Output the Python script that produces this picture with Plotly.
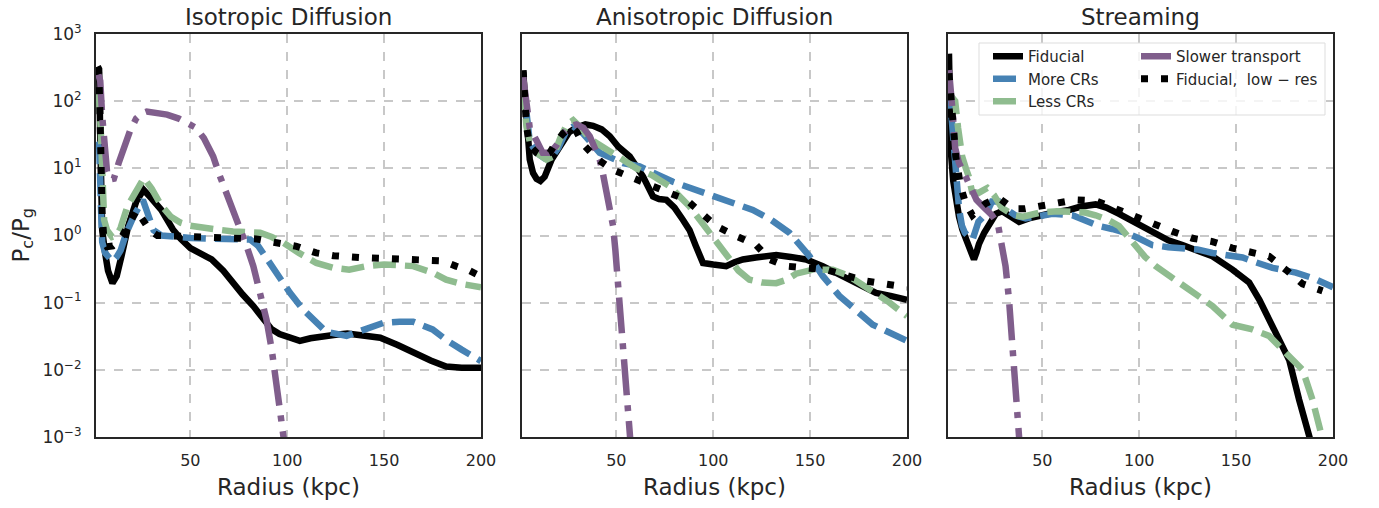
import plotly.graph_objects as go

# ---------------- data (radius in kpc, Pc/Pg) ----------------
panel_titles = ["Isotropic Diffusion", "Anisotropic Diffusion", "Streaming"]
series_names = ["Fiducial", "More CRs", "Less CRs", "Slower transport", "Fiducial,\u00a0 low \u2212 res"]
x_tick_vals = [50, 100, 150, 200]
y_tick_vals = [1e-3, 1e-2, 1e-1, 1e0, 1e1, 1e2, 1e3]
y_tick_text = ["10<sup>\u22123</sup>", "10<sup>\u22122</sup>", "10<sup>\u22121</sup>", "10<sup>0</sup>",
               "10<sup>1</sup>", "10<sup>2</sup>", "10<sup>3</sup>"]

# Isotropic diffusion
iso_fid_r = [2.2, 2.9, 3.6, 4.5, 6.0, 7.5, 9.8, 12, 14.5, 18, 22, 25.8, 30, 35, 41, 45, 50, 55, 61, 67,
             72, 77, 82.5, 88, 92, 96, 101, 106.5, 112, 117, 124, 131, 140, 148, 157, 165, 174, 182, 190, 200]
iso_fid_v = [330, 300, 20, 1.2, 0.55, 0.3, 0.195, 0.25, 0.5, 1.41, 3.16, 4.8, 3.55, 2.4, 1.23, 0.89, 0.65, 0.54, 0.44, 0.30,
             0.195, 0.132, 0.089, 0.056, 0.040, 0.034, 0.030, 0.027, 0.0295, 0.0316, 0.033, 0.0347, 0.033, 0.030, 0.0234,
             0.0178, 0.0138, 0.0112, 0.0107, 0.0107]
iso_more_r = [1.8, 3.0, 3.8, 4.5, 6, 8, 9.8, 12, 14, 17, 21, 25.5, 28, 31, 35, 41, 50, 60, 70, 80.8,
              85, 89.3, 95, 101.4, 108, 113.4, 120, 130.6, 140.9, 149.5, 158, 165, 175, 182, 190, 200]
iso_more_v = [25, 20, 3, 0.8, 0.55, 0.45, 0.41, 0.48, 0.6, 1.1, 2.0, 3.4, 2.0, 1.2, 1.0, 0.95, 0.92, 0.9, 0.9, 0.87,
              0.7, 0.45, 0.25, 0.14, 0.08, 0.056, 0.037, 0.032, 0.04, 0.05, 0.052, 0.052, 0.04, 0.028, 0.02, 0.0135]
iso_less_r = [1.8, 3.0, 3.8, 4.5, 5.5, 7, 9.6, 12, 14, 17.5, 22.6, 26, 30, 35, 40, 45, 50, 56, 63.6, 72,
              80, 86, 92, 98, 106, 115, 124, 132, 141, 150, 158, 165, 175, 182, 190, 200]
iso_less_v = [150, 100, 35, 8, 1.7, 1.2, 0.95, 1.0, 1.3, 2.7, 5.2, 7.2, 5.0, 2.8, 1.9, 1.55, 1.4, 1.3, 1.23, 1.15,
              1.12, 1.1, 0.95, 0.78, 0.55, 0.39, 0.33, 0.31, 0.35, 0.37, 0.36, 0.35, 0.28, 0.22, 0.19, 0.17]
iso_slow_r = [2.5, 3.5, 4.5, 5.5, 7, 8.6, 10.5, 13, 16, 19, 22, 25, 27.5, 32, 38, 44, 48, 53, 57, 61.8,
              65, 68.7, 72, 75.6, 79, 82.5, 86, 89.3, 92, 94.5, 96.5, 98, 99.5]
iso_slow_v = [250, 200, 60, 20, 9, 6.8, 7, 12, 22, 37, 55, 66, 70, 68, 63, 55, 47, 40, 28, 15,
              8, 4.3, 2.4, 1.38, 0.7, 0.35, 0.15, 0.056, 0.02, 0.0065, 0.0022, 0.0011, 0.0005]
iso_low_r = [2.0, 2.8, 3.3, 3.8, 4.5, 5.5, 7, 10, 12, 15, 18, 20.5, 22.4, 25, 29, 33, 45, 55, 65, 75,
             84, 94.5, 104.8, 115, 124, 137.5, 150, 158, 168, 180, 187, 194, 200]
iso_low_v = [320, 250, 80, 12, 2.0, 0.8, 0.68, 0.7, 0.78, 1.0, 1.5, 2.0, 2.4, 1.8, 1.2, 1.0, 0.97, 0.95, 0.93, 0.92,
             0.89, 0.78, 0.69, 0.55, 0.5, 0.47, 0.45, 0.44, 0.44, 0.42, 0.35, 0.3, 0.245]

# Anisotropic diffusion
ani_fid_r = [1.9, 3.0, 4.2, 5.3, 7, 8.8, 10.8, 13, 16.6, 21, 25.4, 29, 34, 38, 42.4, 46.6, 51, 56.9, 60.3, 63.7,
             68.9, 72, 75.8, 80, 84.4, 87.8, 91, 94.7, 100, 106.7, 111, 115.3, 122, 132.5, 140, 147.9, 156.5, 165,
             173.7, 184, 192, 200]
ani_fid_v = [275, 120, 30, 13.5, 8.5, 7, 6.5, 7.5, 13.5, 22, 34, 40, 45, 43, 38, 30, 21, 15, 11, 7.6,
             3.8, 3.5, 3.4, 2.6, 1.7, 1.2, 0.7, 0.39, 0.37, 0.35, 0.4, 0.44, 0.47, 0.51, 0.48, 0.44, 0.35, 0.26,
             0.19, 0.14, 0.125, 0.11]
ani_more_r = [1.9, 3.6, 5.3, 8.8, 13, 15.6, 20, 24, 27.7, 32.8, 41.4, 53.4, 62, 79.2, 101.5, 120.4, 130, 139.3,
              149.7, 156.5, 165.1, 182.3, 200]
ani_more_v = [190, 60, 25, 17, 14, 13.5, 20, 35, 42, 33, 17, 12, 10.7, 6.3, 3.8, 2.4, 1.7, 1.1,
              0.49, 0.25, 0.126, 0.047, 0.027]
ani_less_r = [1.9, 3.6, 5.3, 8.8, 13.9, 17.4, 21, 24.5, 27.7, 31, 36, 44.8, 52, 60.3, 68, 77.5, 87.8, 93, 98.1, 103,
              108.4, 113, 118.7, 125, 132.5, 138, 142.8, 151.4, 161.7, 170, 178.9, 190, 200]
ani_less_v = [165, 42, 25, 17, 13.5, 15, 28, 45, 52, 42, 28, 19, 14, 10, 8, 5.4, 2.7, 1.7, 1.1, 0.7,
              0.44, 0.3, 0.22, 0.2, 0.195, 0.22, 0.27, 0.31, 0.31, 0.25, 0.17, 0.105, 0.063]
ani_slow_r = [1.9, 3.6, 5.3, 8.8, 12, 15.6, 19.1, 22.5, 26, 29.4, 33, 36.3, 39, 41.4, 43, 44.8, 46.6, 48.3,
              49.5, 50.9, 52, 53.4, 55, 57.5]
ani_slow_v = [230, 90, 40, 26, 17, 17, 22, 33, 42, 45, 40, 30, 20, 13.5, 8.5, 4.8, 2.6, 1.38,
              0.6, 0.195, 0.07, 0.02, 0.005, 0.0007]
ani_low_r = [1.9, 3.6, 5.3, 8.8, 12, 15.6, 19.1, 22.5, 26.8, 29.5, 32.8, 39.7, 48.3, 58.6, 68.9, 86.1, 101.5,
             111.9, 122.2, 129, 137.6, 158.2, 168.6, 178.9, 200]
ani_low_v = [290, 42, 22, 17, 15, 17, 25, 33, 42, 35, 23, 14, 9.5, 7, 5.4, 3.4, 1.38,
             0.98, 0.72, 0.44, 0.35, 0.31, 0.26, 0.21, 0.17]

# Streaming
str_fid_r = [1.8, 2.7, 4, 5.3, 7, 8.7, 10.4, 12.1, 13.5, 14.7, 16, 17.3, 20, 22.5, 26, 29.3, 33, 38, 43, 48.3,
             56, 63.8, 70, 77.5, 83, 89.6, 100, 108.5, 115, 122.3, 130, 137.8, 148.1, 156.7, 162, 167, 172,
             177.4, 182.5, 187.7, 190]
str_fid_v = [510, 19, 6.5, 3.4, 1.9, 1.23, 0.95, 0.69, 0.52, 0.44, 0.56, 0.75, 1.1, 1.5, 2.1, 2.3, 2.0, 1.6, 1.8, 2.0,
             2.2, 2.4, 2.7, 2.9, 2.6, 2.1, 1.45, 1.02, 0.85, 0.72, 0.6, 0.49, 0.31, 0.2, 0.11, 0.056, 0.03,
             0.014, 0.0036, 0.001, 0.0006]
str_more_r = [1.8, 2.7, 4, 5.5, 7, 8.5, 10, 12, 14, 17, 21, 24, 27.6, 31, 36, 41.4, 48.3, 55.2, 65.5, 72,
              79.3, 86, 93, 100, 106.8, 115, 124, 130, 137.8, 146, 153.3, 160, 168.8, 180.8, 190, 200]
str_more_v = [170, 75, 25, 6, 2.5, 1.4, 1.1, 0.95, 0.87, 1.6, 2.1, 3.2, 3.2, 2.5, 2.0, 1.8, 2.0, 2.1, 2.0, 1.7,
              1.38, 1.25, 1.1, 0.9, 0.72, 0.67, 0.65, 0.62, 0.55, 0.5, 0.47, 0.4, 0.33, 0.28, 0.23, 0.17]
str_less_r = [1.8, 3.5, 5, 6.5, 8.6, 10.5, 12, 13.7, 17, 21.6, 25, 29, 35, 40, 49, 58, 65.5, 72, 77.5, 84,
              89.6, 94, 98.2, 103, 108.5, 115, 122.3, 130, 137.8, 148.1, 158.4, 167, 175.6, 184.3, 189.4, 194.6, 197]
str_less_v = [130, 115, 100, 40, 15, 10, 7.6, 4.5, 4.3, 5.1, 4.0, 2.6, 2.0, 1.9, 2.2, 2.3, 2.3, 2.2, 2.0, 1.7,
              1.38, 1.0, 0.69, 0.48, 0.35, 0.26, 0.19, 0.13, 0.089, 0.047, 0.04, 0.032, 0.018, 0.01, 0.0036, 0.001, 0.0005]
str_slow_r = [1.8, 2.5, 3.6, 5, 7, 10, 13, 16, 20, 24, 27, 29, 31, 32.8, 34, 35.4, 36.7, 38, 39]
str_slow_v = [290, 200, 74, 20, 12, 8, 5, 3.4, 2.6, 2.0, 1.5, 0.8, 0.35, 0.11, 0.04, 0.011, 0.0035, 0.001, 0.0004]
str_low_r = [1.8, 3.6, 5.3, 7.8, 10.4, 13.9, 17, 20.7, 24, 27.6, 32, 36.2, 41, 46.6, 56.9, 67.2, 77.5, 87.9, 98.2,
             106.8, 117.1, 127.5, 137.8, 148.1, 156.7, 167, 175.6, 184.3, 194.6]
str_low_v = [260, 66, 15, 5.4, 3.0, 2.0, 2.5, 3.0, 3.3, 3.6, 2.9, 2.5, 2.5, 2.7, 3.0, 3.4, 3.3, 2.5, 1.8,
             1.45, 1.15, 0.91, 0.81, 0.65, 0.58, 0.49, 0.31, 0.19, 0.15]

panels = [
    [(iso_fid_r, iso_fid_v), (iso_more_r, iso_more_v), (iso_less_r, iso_less_v),
     (iso_slow_r, iso_slow_v), (iso_low_r, iso_low_v)],
    [(ani_fid_r, ani_fid_v), (ani_more_r, ani_more_v), (ani_less_r, ani_less_v),
     (ani_slow_r, ani_slow_v), (ani_low_r, ani_low_v)],
    [(str_fid_r, str_fid_v), (str_more_r, str_more_v), (str_less_r, str_less_v),
     (str_slow_r, str_slow_v), (str_low_r, str_low_v)],
]

# ---------------- styles ----------------
line_styles = [
    dict(color="#000000", width=6.5, dash="solid"),
    dict(color="#4682b4", width=6.5, dash="23px,9px"),
    dict(color="#8fbc8f", width=6.5, dash="23px,9px"),
    dict(color="#805e8c", width=6.5, dash="36px,10px,6px,10px"),
    dict(color="#000000", width=7, dash="7px,13px"),
]
legend_of = ["legend", "legend", "legend", "legend2", "legend2"]

FONT = "DejaVu Sans"
TXT = "#262626"
W, H = 1379, 508
PL, PR, PT, PB = 96, 1333, 34, 437  # plot area in page pixels
plot_w = PR - PL
plot_h = PB - PT
margin = dict(l=PL, r=W - PR, t=PT, b=H - PB, autoexpand=False)

px_domains = [(96, 481), (522, 907), (948, 1333)]
domains = [((a - PL) / plot_w, (b - PL) / plot_w) for a, b in px_domains]


def px_x(px):
    return (px - PL) / plot_w


def px_y(py):
    return (PB - py) / plot_h


fig = go.Figure()
for p, series in enumerate(panels):
    xa = "x" if p == 0 else f"x{p + 1}"
    ya = "y" if p == 0 else f"y{p + 1}"
    for s, (r, v) in enumerate(series):
        fig.add_trace(go.Scatter(
            x=r, y=v, mode="lines", name=series_names[s],
            line=dict(color=line_styles[s]["color"], width=line_styles[s]["width"],
                      dash=line_styles[s]["dash"], shape="linear"),
            xaxis=xa, yaxis=ya,
            showlegend=(p == 2), legend=legend_of[s],
            hoverinfo="skip",
        ))

axis_common = dict(showline=True, linecolor="#262626", linewidth=2, mirror=True,
                   showgrid=True, gridcolor="#c8c8c8", griddash="dash", gridwidth=1.5,
                   zeroline=False, ticks="")

layout = dict(
    width=W, height=H,
    margin=margin,
    paper_bgcolor="white", plot_bgcolor="white",
    font=dict(family=FONT, color=TXT),
    showlegend=True,
)
for p in range(3):
    xk = "xaxis" if p == 0 else f"xaxis{p + 1}"
    yk = "yaxis" if p == 0 else f"yaxis{p + 1}"
    ya = "y" if p == 0 else f"y{p + 1}"
    xa = "x" if p == 0 else f"x{p + 1}"
    layout[xk] = dict(domain=list(domains[p]), anchor=ya, range=[1.3, 200],
                      tickvals=x_tick_vals, ticklabelstandoff=8,
                      tickfont=dict(family=FONT, size=16, color=TXT),
                      title=dict(text="Radius (kpc)", font=dict(family=FONT, size=23, color=TXT), standoff=10),
                      **axis_common)
    layout[yk] = dict(domain=[0, 1], anchor=xa, type="log", range=[-3, 3],
                      tickvals=y_tick_vals, ticktext=y_tick_text, showticklabels=(p == 0),
                      tickfont=dict(family=FONT, size=17, color=TXT),
                      ticklabelstandoff=9, **axis_common)

legend_top = px_y(40)
layout["legend"] = dict(x=px_x(988), y=legend_top, xanchor="left", yanchor="top",
                        bgcolor="rgba(0,0,0,0)", borderwidth=0,
                        font=dict(family=FONT, size=15, color=TXT), tracegroupgap=0)
layout["legend2"] = dict(x=px_x(1136), y=legend_top, xanchor="left", yanchor="top",
                         bgcolor="rgba(0,0,0,0)", borderwidth=0,
                         font=dict(family=FONT, size=15, color=TXT), tracegroupgap=0)
fig.update_layout(**layout)

# legend frame
fig.add_shape(type="rect", xref="paper", yref="paper",
              x0=px_x(979), x1=px_x(1325), y0=px_y(115), y1=px_y(43),
              line=dict(color="#dddddd", width=1), fillcolor="rgba(255,255,255,0.8)", layer="above")

# panel titles
for p in range(3):
    fig.add_annotation(text=panel_titles[p], xref="paper", yref="paper",
                       x=(domains[p][0] + domains[p][1]) / 2, y=1.0, xanchor="center", yanchor="bottom",
                       yshift=2, showarrow=False, font=dict(family=FONT, size=23, color=TXT))

# y-axis title
fig.add_annotation(text="P<sub>c</sub>/P<sub>g</sub>", xref="paper", yref="paper",
                   x=px_x(22), y=0.5, xanchor="center", yanchor="middle", textangle=-90,
                   showarrow=False, font=dict(family=FONT, size=23, color=TXT))

# remove the default page margin so the figure fills the window exactly; hide the modebar
fig.write_html("out.html", config={"displayModeBar": False, "staticPlot": False},
               post_script="document.body.style.margin='0';")
